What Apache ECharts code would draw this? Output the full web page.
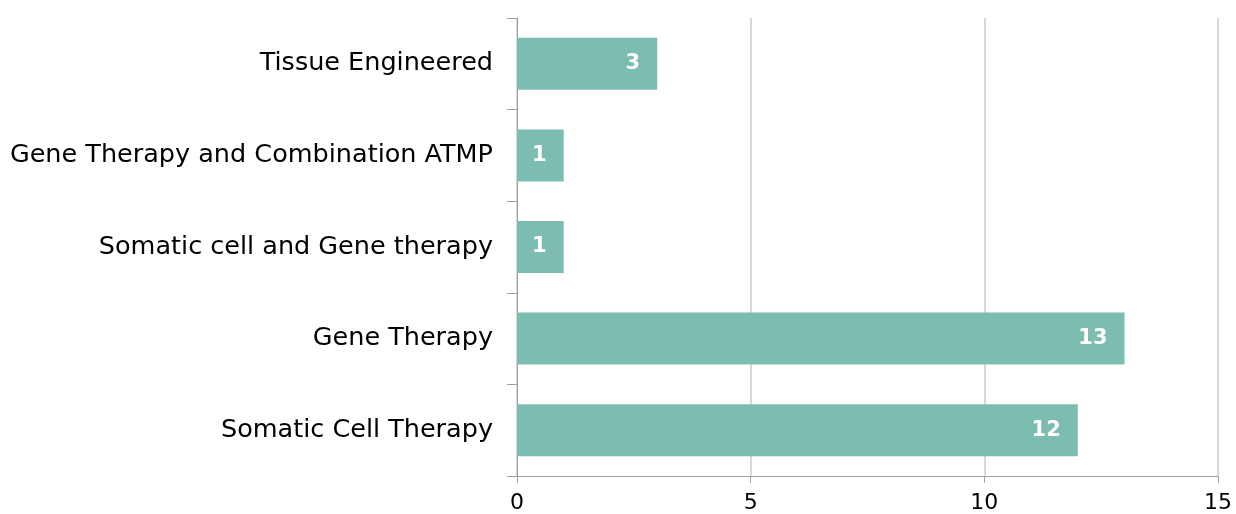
<!DOCTYPE html>
<html>
<head>
<meta charset="utf-8">
<script src="https://cdn.jsdelivr.net/npm/echarts@6/dist/echarts.min.js"></script>
<style>html,body{margin:0;padding:0;background:#fff;}#c{width:1236px;height:514px;}</style>
</head>
<body>
<div id="c"></div>
<script>
const categories = ["Somatic Cell Therapy", "Gene Therapy", "Somatic cell and Gene therapy", "Gene Therapy and Combination ATMP", "Tissue Engineered"];
const values = [12, 13, 1, 1, 3];
const xTicks = [0, 5, 10, 15];

const chart = echarts.init(document.getElementById('c'));
chart.setOption({
  animation: false,
  grid: { left: 517, right: 18, top: 18, bottom: 37, containLabel: false },
  xAxis: {
    type: 'value', min: xTicks[0], max: xTicks[xTicks.length - 1], interval: 5,
    axisLine: { show: true, lineStyle: { color: '#a0a0a0', width: 1 } },
    axisTick: { show: true, length: 7, lineStyle: { color: '#a0a0a0' } },
    axisLabel: { color: '#000', fontFamily: 'DejaVu Sans', fontSize: 22, margin: 16 },
    splitLine: { show: true, lineStyle: { color: '#d9d9d9', width: 2 } }
  },
  yAxis: {
    type: 'category', data: categories,
    axisLine: { show: true, lineStyle: { color: '#a0a0a0', width: 1 } },
    axisTick: { show: true, length: 10, alignWithLabel: false, lineStyle: { color: '#a0a0a0' } },
    axisLabel: { color: '#000', fontFamily: 'DejaVu Sans', fontSize: 25.5, margin: 24 }
  },
  series: [{
    type: 'bar', data: values, barWidth: 52,
    itemStyle: { color: '#7dbcb1' },
    label: { show: true, position: 'insideRight', distance: 17, color: '#fff', fontWeight: 'bold', fontFamily: 'DejaVu Sans', fontSize: 21 }
  }]
});
</script>
</body>
</html>
